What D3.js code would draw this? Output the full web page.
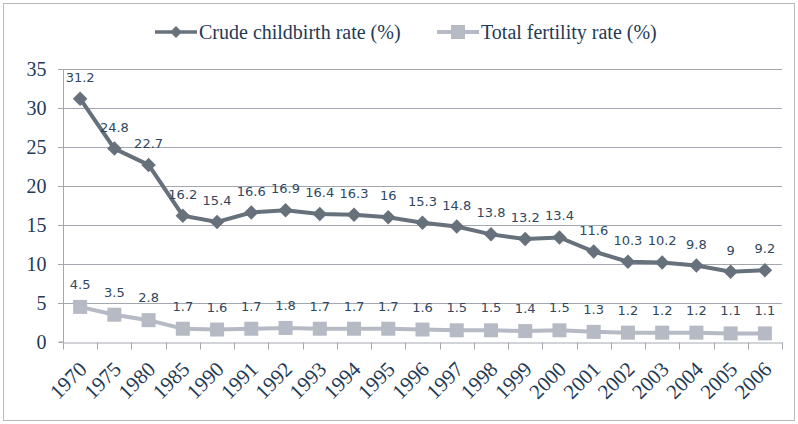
<!DOCTYPE html>
<html><head><meta charset="utf-8">
<script src="https://cdn.jsdelivr.net/npm/d3@7"></script>
<style>body{margin:0;background:#fff;}svg{display:block;}</style>
</head><body>
<script>
const years = ["1970","1975","1980","1985","1990","1991","1992","1993","1994","1995","1996","1997","1998","1999","2000","2001","2002","2003","2004","2005","2006"];
const crude = [31.2,24.8,22.7,16.2,15.4,16.6,16.9,16.4,16.3,16,15.3,14.8,13.8,13.2,13.4,11.6,10.3,10.2,9.8,9,9.2];
const fertility = [4.5,3.5,2.8,1.7,1.6,1.7,1.8,1.7,1.7,1.7,1.6,1.5,1.5,1.4,1.5,1.3,1.2,1.2,1.2,1.1,1.1];
const yTicks = [0,5,10,15,20,25,30,35];
const seriesNames = ["Crude childbirth rate (%)","Total fertility rate (%)"];

const W=798,H=424;
const m={l:63,r:16,t:69,b:82};
const svg=d3.select("body").append("svg").attr("width",W).attr("height",H);
svg.append("rect").attr("x",3.5).attr("y",3.5).attr("width",W-7).attr("height",H-7).attr("fill","#fff").attr("stroke","#b8bcc2").attr("stroke-width",1);

const x=d3.scaleBand().domain(years).range([m.l,W-m.r]);
const y=d3.scaleLinear().domain([0,35]).range([H-m.b,m.t]);
const textColor="#1f3a56";
const serif="'Liberation Serif','Times New Roman',serif";

// gridlines
svg.append("g").selectAll("line").data(yTicks.filter(d=>d>0)).join("line")
 .attr("x1",m.l-5).attr("x2",W-m.r).attr("y1",d=>Math.round(y(d))+0.5).attr("y2",d=>Math.round(y(d))+0.5)
 .attr("stroke","#a3a8b0").attr("stroke-width",1);

// y axis
const ya=svg.append("g").attr("transform",`translate(${m.l+0.5},0)`).call(d3.axisLeft(y).tickValues(yTicks).tickSize(5).tickPadding(12));
ya.select(".domain").attr("stroke","#a3a8b0").attr("d",`M-5,${y(0)}H0V${y(35)}`);
ya.selectAll(".tick line").attr("stroke","#a3a8b0");
ya.selectAll(".tick text").attr("font-family",serif).attr("font-size",20).attr("fill",textColor);

// x axis
const xa=svg.append("g").attr("transform",`translate(0,${Math.round(y(0))+0.5})`).call(d3.axisBottom(x).tickSize(0).tickSizeOuter(0));
xa.select(".domain").attr("stroke","#a3a8b0");
xa.selectAll(".tick line").remove();
xa.append("g").selectAll("line").data(years.concat(["end"])).join("line")
 .attr("x1",(d,i)=>Math.round(i<years.length?x(d):x.range()[1])+0.5).attr("x2",(d,i)=>Math.round(i<years.length?x(d):x.range()[1])+0.5)
 .attr("y1",0).attr("y2",7).attr("stroke","#a3a8b0");
xa.selectAll(".tick text").attr("font-family",serif).attr("font-size",21).attr("fill",textColor)
 .attr("text-anchor","end").attr("dy",0).attr("y",0)
 .attr("transform","translate(8,28) rotate(-45)");

const cx=d=>x(d)+x.bandwidth()/2;
const line=d3.line().x((d,i)=>cx(years[i])).y(d=>y(d));
const c1="#67717c", c2="#b5bac4";

svg.append("path").datum(fertility).attr("d",line).attr("fill","none").attr("stroke",c2).attr("stroke-width",4);
svg.append("g").selectAll("rect").data(fertility).join("rect")
 .attr("x",(d,i)=>cx(years[i])-7).attr("y",d=>y(d)-7).attr("width",14).attr("height",14).attr("fill",c2);

svg.append("path").datum(crude).attr("d",line).attr("fill","none").attr("stroke",c1).attr("stroke-width",4);
svg.append("g").selectAll("path").data(crude).join("path")
 .attr("d",d3.symbol(d3.symbolSquare,105)).attr("transform",(d,i)=>`translate(${cx(years[i])},${y(d)}) rotate(45)`).attr("fill",c1);

const lblFont="'DejaVu Sans',sans-serif";
svg.append("g").selectAll("text").data(crude).join("text")
 .attr("x",(d,i)=>cx(years[i])).attr("y",d=>y(d)-17).attr("text-anchor","middle")
 .attr("font-family",lblFont).attr("font-size",13).attr("fill","#2e4761").text(d=>d);
svg.append("g").selectAll("text").data(fertility).join("text")
 .attr("x",(d,i)=>cx(years[i])).attr("y",d=>y(d)-18).attr("text-anchor","middle")
 .attr("font-family",lblFont).attr("font-size",13).attr("fill","#2e4761").text(d=>d);

// legend
const lg=svg.append("g");
const items=[{n:seriesNames[0],c:c1,x:155,sym:"d"},{n:seriesNames[1],c:c2,x:437,sym:"s"}];
items.forEach(it=>{
 lg.append("line").attr("x1",it.x).attr("x2",it.x+42).attr("y1",32).attr("y2",32).attr("stroke",it.c).attr("stroke-width",it.sym=="d"?3.5:4);
 if(it.sym=="d") lg.append("path").attr("d",d3.symbol(d3.symbolSquare,70)).attr("transform",`translate(${it.x+21},32) rotate(45)`).attr("fill",it.c);
 else lg.append("rect").attr("x",it.x+14).attr("y",25).attr("width",14).attr("height",14).attr("fill",it.c);
 lg.append("text").attr("x",it.x+44).attr("y",38.5).attr("font-family",serif).attr("font-size",20).attr("fill",textColor).text(it.n);
});
</script>
</body></html>
